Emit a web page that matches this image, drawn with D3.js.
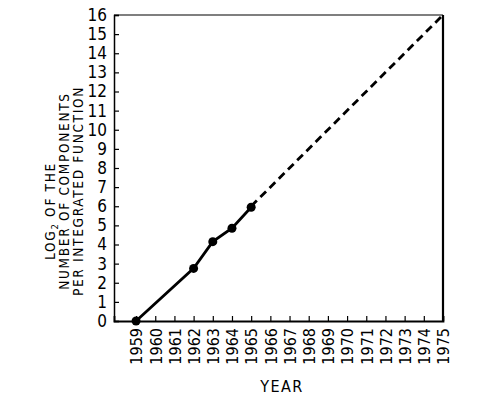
<!DOCTYPE html>
<html>
<head>
<meta charset="utf-8">
<script src="https://cdn.jsdelivr.net/npm/d3@7"></script>
<style>
  body { margin: 0; background: #fff; }
  svg { display: block; }
  text { font-family: "DejaVu Sans Condensed", "DejaVu Sans", sans-serif; font-stretch: condensed; fill: #000; }
</style>
</head>
<body>
<svg id="chart" width="500" height="397"></svg>
<script>
// measured points (log2 of components per integrated function)
const years = [1959, 1962, 1963, 1964, 1965]
const log2Components = [0, 2.75, 4.15, 4.85, 5.95]
// extrapolation drawn dashed
const trendYears = [1965, 1975]
const trendValues = [6, 16]

const yearTicks = d3.range(1959, 1976)
const valueTicks = d3.range(0, 17)
const titleLines = ["LOG", "NUMBER OF COMPONENTS", "PER INTEGRATED FUNCTION"]

const svg = d3.select("#chart")
const plotLeft = 114, plotRight = 443, plotTop = 15, plotBottom = 321

const x = d3.scaleLinear().domain([1957.85, 1975]).range([plotLeft, plotRight])
const y = d3.scaleLinear().domain([0, 16]).range([plotBottom, plotTop])

// frame
svg.append("line").attr("x1", plotLeft).attr("x2", plotRight).attr("y1", plotTop).attr("y2", plotTop)
    .attr("stroke", "#000").attr("stroke-width", 1.2)
svg.append("line").attr("x1", plotRight).attr("x2", plotRight).attr("y1", plotTop).attr("y2", plotBottom)
    .attr("stroke", "#000").attr("stroke-width", 2.2)

const yAxis = svg.append("g")
    .attr("transform", `translate(${plotLeft},0)`)
    .call(d3.axisLeft(y).tickValues(valueTicks).tickSize(-5).tickPadding(7).tickFormat(d3.format("d")))
yAxis.select(".domain").attr("stroke-width", 1.5)
yAxis.selectAll(".tick line").attr("stroke-width", 1.2)
yAxis.selectAll(".tick text").attr("font-size", 17).attr("font-family", null)

const xAxis = svg.append("g")
    .attr("transform", `translate(0,${plotBottom})`)
    .call(d3.axisBottom(x).tickValues(yearTicks).tickSize(-5).tickPadding(0).tickFormat(d3.format("d")))
xAxis.select(".domain").attr("stroke-width", 1.8)
xAxis.selectAll(".tick line").attr("stroke-width", 1.2)
xAxis.selectAll(".tick text")
    .attr("font-size", 16).attr("font-family", null)
    .attr("transform", "rotate(-90)")
    .attr("text-anchor", "end")
    .attr("x", -7).attr("y", 0).attr("dy", "0.36em")

// axis titles
const title = svg.append("g").attr("transform", "translate(0,191) rotate(-90)")
title.selectAll("text")
    .data(titleLines)
    .join("text")
    .attr("x", (d, i) => i === 0 ? -20 : 0)
    .attr("y", (d, i) => 55 + i * 14)
    .attr("text-anchor", "middle")
    .attr("font-size", 13.5)
    .attr("letter-spacing", 1.7)
    .each(function (d, i) {
        if (i !== 0) { d3.select(this).text(d); return }
        const t = d3.select(this)
        t.append("tspan").text("LOG")
        t.append("tspan").attr("font-size", 9.5).attr("dy", 3).text("2")
        t.append("tspan").attr("dy", -3).text(" OF THE")
    })

svg.append("text")
    .attr("x", 282).attr("y", 392)
    .attr("text-anchor", "middle")
    .attr("font-size", 16)
    .attr("letter-spacing", 1.5)
    .text("YEAR")

// measured line
const pts = years.map((d, i) => [d, log2Components[i]])
const line = d3.line().x(d => x(d[0])).y(d => y(d[1]))
svg.append("path").datum(pts)
    .attr("fill", "none").attr("stroke", "#000").attr("stroke-width", 2.8)
    .attr("d", line)

svg.append("path").datum(trendYears.map((d, i) => [d, trendValues[i]]))
    .attr("fill", "none").attr("stroke", "#000").attr("stroke-width", 2.8)
    .attr("stroke-dasharray", "8,5")
    .attr("d", line)

svg.append("g").selectAll("circle")
    .data(pts)
    .join("circle")
    .attr("cx", d => x(d[0])).attr("cy", d => y(d[1]))
    .attr("r", 4.5).attr("fill", "#000")
</script>
</body>
</html>
